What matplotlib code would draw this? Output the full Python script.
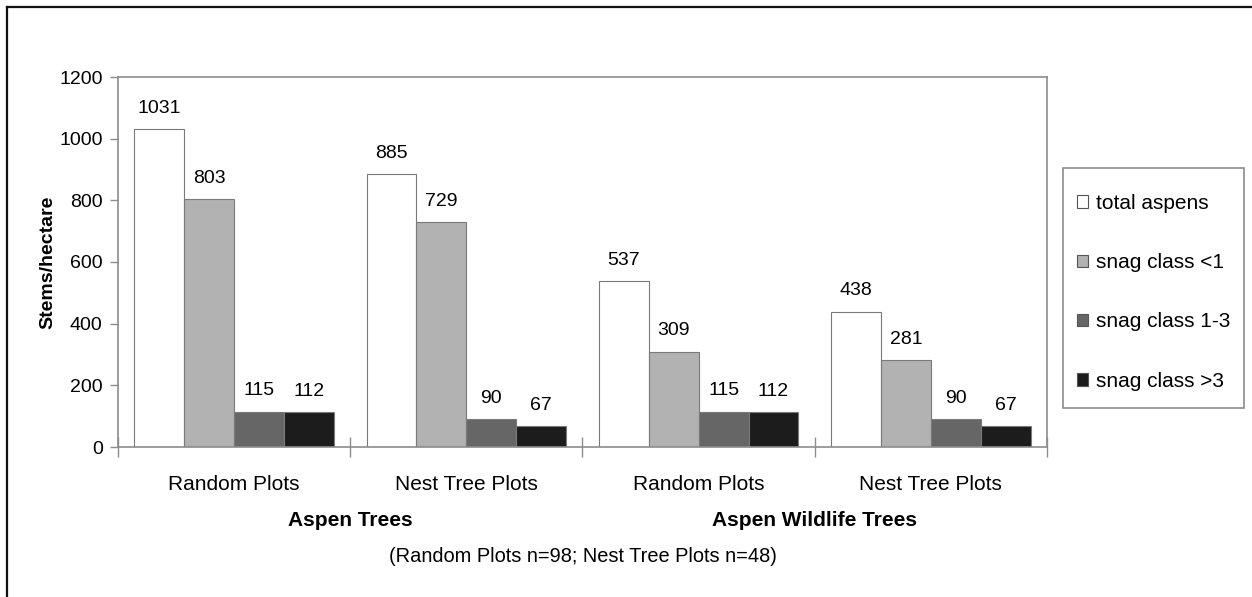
import numpy as np
import matplotlib
matplotlib.use('Agg')
import matplotlib.pyplot as plt
from matplotlib.lines import Line2D
from matplotlib.patches import Rectangle

plt.rcParams['font.family'] = ['Liberation Sans', 'DejaVu Sans']

# data
groups = ['Random Plots', 'Nest Tree Plots', 'Random Plots', 'Nest Tree Plots']
series = ['total aspens', 'snag class <1', 'snag class 1-3', 'snag class >3']
total_aspens = [1031, 885, 537, 438]
snag_lt1 = [803, 729, 309, 281]
snag_1_3 = [115, 90, 115, 90]
snag_gt3 = [112, 67, 112, 67]
supergroups = ['Aspen Trees', 'Aspen Wildlife Trees']
yticks = [0, 200, 400, 600, 800, 1000, 1200]

colors = ['#ffffff', '#b2b2b2', '#666666', '#1c1c1c']
axis_gray = '#8c8c8c'
fs = 14

W, H = 1252, 597
fig = plt.figure(figsize=(W / 100, H / 100), dpi=100)
ax = fig.add_axes([118 / W, 150 / H, 929 / W, 370 / H])

x = np.arange(len(groups))
width = 0.215
all_vals = [total_aspens, snag_lt1, snag_1_3, snag_gt3]
for i, (vals, name) in enumerate(zip(all_vals, series)):
    pos = x + (i - 1.5) * width
    ax.bar(pos, vals, width, color=colors[i], edgecolor='#7a7a7a',
           linewidth=0.8, label=name)
    for xb, v in zip(pos, vals):
        ax.annotate(str(v), (xb, v), xytext=(0, 9), textcoords='offset points',
                    ha='center', va='bottom', fontsize=fs)

ax.set_xlim(-0.5, 3.5)
ax.set_ylim(0, 1200)
ax.set_yticks(yticks)
ax.set_xticks(x)
ax.set_xticklabels(groups, fontsize=15)
ax.set_xticks(np.arange(-0.5, 4.0, 1.0), minor=True)
ax.tick_params(axis='x', which='major', length=0, pad=20)
ax.tick_params(axis='x', which='minor', direction='inout', length=14,
               color=axis_gray, width=1)
ax.tick_params(axis='y', direction='out', length=6, color=axis_gray,
               width=1, labelsize=fs, pad=5)
for s in ax.spines.values():
    s.set_color(axis_gray)
    s.set_linewidth(1.2)

ax.set_ylabel('Stems/hectare', fontsize=fs, fontweight='bold', labelpad=2)

# group titles under the category labels
ax.text(0.5, -0.2, supergroups[0], transform=ax.get_xaxis_transform(),
        ha='center', va='center', fontsize=15, fontweight='bold')
ax.text(2.5, -0.2, supergroups[1], transform=ax.get_xaxis_transform(),
        ha='center', va='center', fontsize=15, fontweight='bold')
ax.text(1.5, -0.297, '(Random Plots n=98; Nest Tree Plots n=48)',
        transform=ax.get_xaxis_transform(), ha='center', va='center',
        fontsize=14.4)

# legend box drawn separately so the padding can match
fig.add_artist(Rectangle((1063 / W, 1 - 408 / H), 181 / W, 240 / H,
                         transform=fig.transFigure, facecolor='white',
                         edgecolor=axis_gray, linewidth=1.2))
leg = fig.legend(loc='upper left', bbox_to_anchor=(1077 / W, 1 - 194 / H),
                 frameon=False, fontsize=15, labelspacing=1.93,
                 handlelength=0.55, handleheight=0.55, handletextpad=0.35,
                 borderpad=0, borderaxespad=0)
for h in leg.legend_handles:
    h.set_edgecolor('#555555')
    h.set_linewidth(0.8)

# outer border (top and left edges visible)
fig.add_artist(Line2D([7 / W, 7 / W], [0, 1 - 7 / H],
                      transform=fig.transFigure, color='#111111', lw=1.6))
fig.add_artist(Line2D([7 / W, 1], [1 - 7 / H, 1 - 7 / H],
                      transform=fig.transFigure, color='#111111', lw=1.6))

fig.savefig('out.png', dpi=100)
